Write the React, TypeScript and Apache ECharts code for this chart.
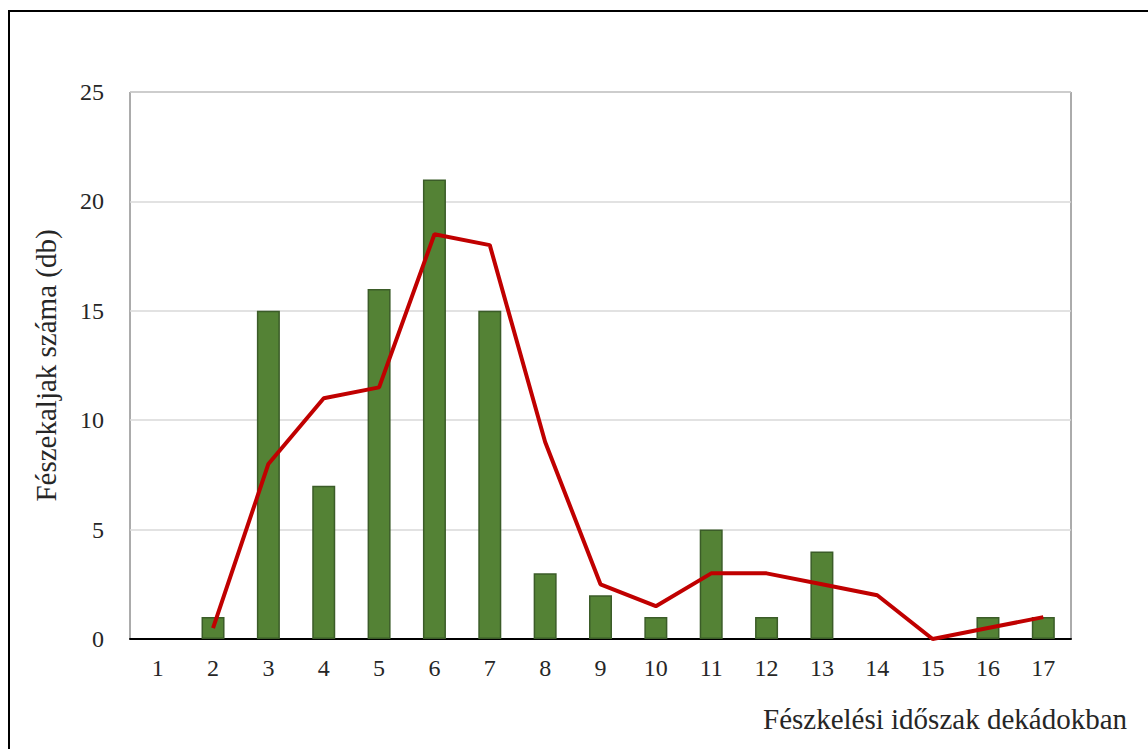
import React, { useEffect, useRef } from "react";
import * as echarts from "echarts";

const categories = ["1", "2", "3", "4", "5", "6", "7", "8", "9", "10", "11", "12", "13", "14", "15", "16", "17"];
const barValues = [0, 1, 15, 7, 16, 21, 15, 3, 2, 1, 5, 1, 4, 0, 0, 1, 1];
const lineValues: (number | null)[] = [null, 0.5, 8, 11, 11.5, 18.5, 18, 9, 2.5, 1.5, 3, 3, 2.5, 2, 0, 0.5, 1];
const yTitle = "Fészekaljak száma (db)";
const xTitle = "Fészkelési időszak dekádokban";

const FONT = "Liberation Serif";

export default function App() {
  const ref = useRef<HTMLDivElement>(null);
  useEffect(() => {
    if (!ref.current) return;
    const chart = echarts.init(ref.current, undefined, { renderer: "svg" });
    chart.setOption({
      animation: false,
      backgroundColor: "#ffffff",
      textStyle: { fontFamily: FONT },
      grid: {
        left: 130,
        top: 92,
        right: 77,
        bottom: 110,
        show: true,
        borderColor: "#595959",
        borderWidth: 1,
      },
      graphic: [
        {
          type: "rect",
          shape: { x: 9, y: 11, width: 1300, height: 900 },
          style: { fill: "none", stroke: "#000000", lineWidth: 2 },
          silent: true,
        },
        {
          type: "text",
          right: 21,
          top: 704,
          style: { text: xTitle, fontFamily: FONT, fontSize: 29, fill: "#262626" },
        },
      ],
      xAxis: {
        type: "category",
        data: categories,
        axisLine: { show: true, lineStyle: { color: "#000000", width: 2 } },
        axisTick: { show: false },
        axisLabel: { color: "#262626", fontFamily: FONT, fontSize: 24, margin: 17 },
        splitLine: { show: false },
      },
      yAxis: {
        type: "value",
        min: 0,
        max: 25,
        interval: 5,
        name: yTitle,
        nameLocation: "middle",
        nameGap: 70,
        nameTextStyle: { color: "#262626", fontFamily: FONT, fontSize: 29 },
        axisLine: { show: false },
        axisTick: { show: false },
        axisLabel: { color: "#262626", fontFamily: FONT, fontSize: 24, margin: 26 },
        splitLine: { show: true, lineStyle: { color: "#d9d9d9", width: 1.5 } },
      },
      series: [
        {
          type: "bar",
          data: barValues.map((v) => (v === 0 ? null : v)),
          barWidth: 23,
          itemStyle: { color: "#548235", borderColor: "#3b5c28", borderWidth: 1.5 },
        },
        {
          type: "line",
          data: lineValues,
          showSymbol: false,
          symbol: "none",
          lineStyle: { color: "#c00000", width: 4 },
          connectNulls: false,
        },
      ],
    });
    return () => chart.dispose();
  }, []);
  return (
    <div
      ref={ref}
      style={{ position: "fixed", left: 0, top: 0, width: 1148, height: 749 }}
    />
  );
}
